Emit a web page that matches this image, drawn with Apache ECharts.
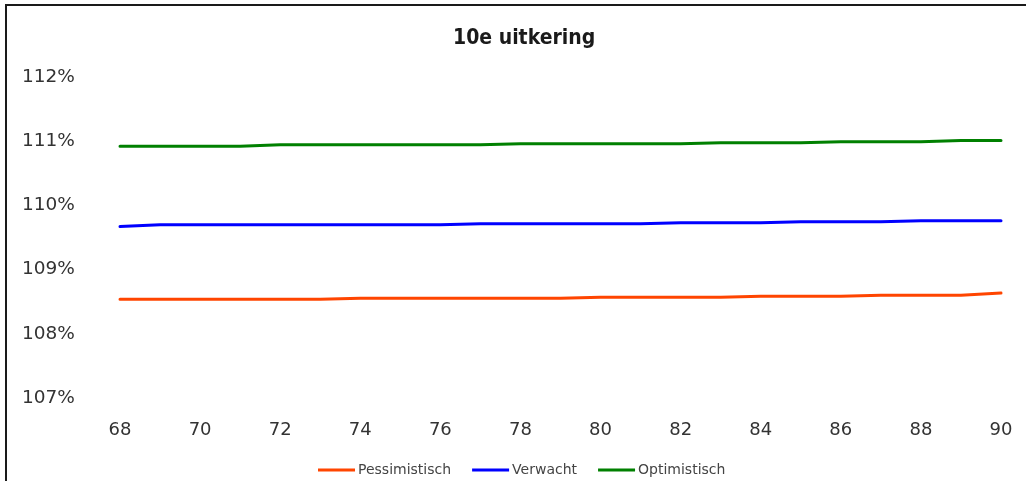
<!DOCTYPE html>
<html>
<head>
<meta charset="utf-8">
<script src="https://cdn.jsdelivr.net/npm/echarts@6/dist/echarts.min.js"></script>
<style>
  html, body { margin: 0; padding: 0; background: #fff; }
  #frame { position: absolute; left: 5px; top: 4px; width: 1030px; height: 490px;
           border-left: 2px solid #1a1a1a; border-top: 2px solid #1a1a1a; }
  #chart { position: absolute; left: 0; top: 0; width: 1026px; height: 481px; }
</style>
</head>
<body>
<div id="frame"></div>
<div id="chart"></div>
<script>
// Leeftijden (x-as)
const leeftijden = ['68','69','70','71','72','73','74','75','76','77','78','79',
                    '80','81','82','83','84','85','86','87','88','89','90'];

// Uitkering als percentage van de eerste uitkering
const pessimistisch = [108.54,108.54,108.54,108.54,108.54,108.54,108.555,108.555,108.555,108.555,108.555,108.555,
                       108.57,108.57,108.57,108.57,108.585,108.585,108.585,108.60,108.60,108.60,108.635];
const verwacht      = [109.67,109.70,109.70,109.70,109.70,109.70,109.70,109.70,109.70,109.715,109.715,109.715,
                       109.715,109.715,109.73,109.73,109.73,109.745,109.745,109.745,109.76,109.76,109.76];
const optimistisch  = [110.92,110.92,110.92,110.92,110.945,110.945,110.945,110.945,110.945,110.945,110.96,110.96,
                       110.96,110.96,110.96,110.975,110.975,110.975,110.99,110.99,110.99,111.01,111.01];

const yMin = 107, yMax = 112, yStap = 1;

const chart = echarts.init(document.getElementById('chart'));

function lijn(naam, data, kleur) {
  return {
    name: naam, type: 'line', data: data,
    symbol: 'none', smooth: false,
    lineStyle: { width: 3, color: kleur, cap: 'round' },
    itemStyle: { color: kleur }
  };
}

chart.setOption({
  animation: false,
  title: {
    text: '10e uitkering',
    left: 448, top: 23,
    textStyle: { fontFamily: 'DejaVu Sans Condensed', fontSize: 21, fontWeight: 'bold', color: '#1a1a1a' }
  },
  legend: {
    top: 458, left: 313,
    itemWidth: 37, itemHeight: 3, itemGap: 21,
    icon: 'rect',
    textStyle: { fontFamily: 'DejaVu Sans', fontSize: 14, color: '#444', padding: [0, 0, 0, -2] },
    data: ['Pessimistisch', 'Verwacht', 'Optimistisch']
  },
  grid: { left: 120, right: 25, top: 77, bottom: 83 },
  xAxis: {
    type: 'category', data: leeftijden, boundaryGap: false,
    axisLine: { show: false }, axisTick: { show: false },
    axisLabel: {
      interval: 1, margin: 23,
      fontFamily: 'DejaVu Sans', fontSize: 18, color: '#333'
    }
  },
  yAxis: {
    type: 'value', min: yMin, max: yMax, interval: yStap,
    splitLine: { show: false }, axisLine: { show: false }, axisTick: { show: false },
    axisLabel: {
      align: 'left', margin: 98,
      padding: [7, 0, 0, 0],
      fontFamily: 'DejaVu Sans', fontSize: 18.5, color: '#333',
      formatter: v => v + '%'
    }
  },
  series: [
    lijn('Pessimistisch', pessimistisch, '#ff4500'),
    lijn('Verwacht', verwacht, '#0000ff'),
    lijn('Optimistisch', optimistisch, '#008000')
  ]
});
</script>
</body>
</html>
